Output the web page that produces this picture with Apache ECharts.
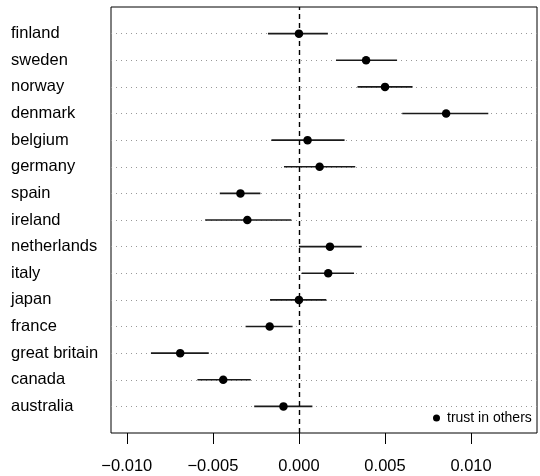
<!DOCTYPE html>
<html>
<head>
<meta charset="utf-8">
<script src="https://cdn.jsdelivr.net/npm/echarts@6/dist/echarts.min.js"></script>
<style>html,body{margin:0;padding:0;background:#fff}#c{width:540px;height:476px}</style>
</head>
<body>
<div id="c"></div>
<script>
const countries = ['finland','sweden','norway','denmark','belgium','germany','spain','ireland','netherlands','italy','japan','france','great britain','canada','australia'];
const estimate = [0.0000, 0.0039, 0.0050, 0.00855, 0.0005, 0.0012, -0.0034, -0.0030, 0.0018, 0.0017, 0.0000, -0.0017, -0.0069, -0.0044, -0.0009];
const lower = [-0.0018, 0.00215, 0.0034, 0.0060, -0.0016, -0.00087, -0.0046, -0.00545, 0.0000, 0.00016, -0.00168, -0.0031, -0.0086, -0.0059, -0.0026];
const upper = [0.00168, 0.0057, 0.0066, 0.0110, 0.00265, 0.00327, -0.00224, -0.00044, 0.00364, 0.0032, 0.00159, -0.00037, -0.00524, -0.0028, 0.00078];
const xTicks = [-0.010, -0.005, 0.000, 0.005, 0.010];
const seriesName = 'trust in others';

const n = countries.length;
const rowPos = countries.map((c, i) => n - i);
const font = '"Liberation Sans", Arial, Helvetica, sans-serif';

const chart = echarts.init(document.getElementById('c'));
chart.setOption({
  animation: false,
  backgroundColor: '#fff',
  grid: { left: 111, right: 3, top: 7, bottom: 43, show: true, borderColor: '#000', borderWidth: 1, backgroundColor: 'transparent' },
  xAxis: {
    type: 'value', min: -0.01092, max: 0.01383,
    axisLine: { show: false },
    splitLine: { show: false },
    axisTick: { show: true, length: 11, customValues: xTicks, lineStyle: { color: '#000', width: 1 } },
    axisLabel: {
      customValues: xTicks, margin: 25, color: '#000', fontSize: 16.5, fontFamily: font,
      formatter: v => (v < 0 ? '\u2212' : '') + Math.abs(v).toFixed(3)
    }
  },
  yAxis: {
    type: 'value', min: 0, max: n + 1, interval: 1,
    axisLine: { show: false },
    axisTick: { show: false },
    splitLine: { show: true, showMinLine: false, showMaxLine: false, lineStyle: { color: '#999', type: [1, 4], width: 1 } },
    axisLabel: {
      customValues: rowPos, align: 'left', margin: 100, color: '#000', fontSize: 16.5, fontFamily: font,
      formatter: v => countries[n - v]
    }
  },
  legend: {
    left: 433, top: 411, padding: 0, icon: 'circle', itemWidth: 7, itemHeight: 7,
    itemStyle: { color: '#000', opacity: 1 },
    textStyle: { fontSize: 14, fontFamily: font, color: '#000', lineHeight: 14, padding: [0, 0, 0, 2] },
    data: [seriesName]
  },
  series: [
    {
      type: 'custom', name: 'ci', silent: true,
      data: countries.map((c, i) => [lower[i], upper[i], rowPos[i]]),
      renderItem: (params, api) => {
        const a = api.coord([api.value(0), api.value(2)]);
        const b = api.coord([api.value(1), api.value(2)]);
        return { type: 'line', shape: { x1: a[0], y1: a[1], x2: b[0], y2: b[1] }, style: { stroke: '#1a1a1a', lineWidth: 1.7 } };
      },
      encode: { x: [0, 1], y: 2 },
      z: 3
    },
    {
      type: 'scatter', name: seriesName,
      data: countries.map((c, i) => [estimate[i], rowPos[i]]),
      symbol: 'circle', symbolSize: 8.5,
      itemStyle: { color: '#000', opacity: 1 },
      z: 4,
      markLine: {
        silent: true, symbol: 'none', label: { show: false },
        lineStyle: { color: '#000', type: [5, 4], width: 1.4 },
        data: [{ xAxis: 0 }]
      }
    }
  ]
});
</script>
</body>
</html>
